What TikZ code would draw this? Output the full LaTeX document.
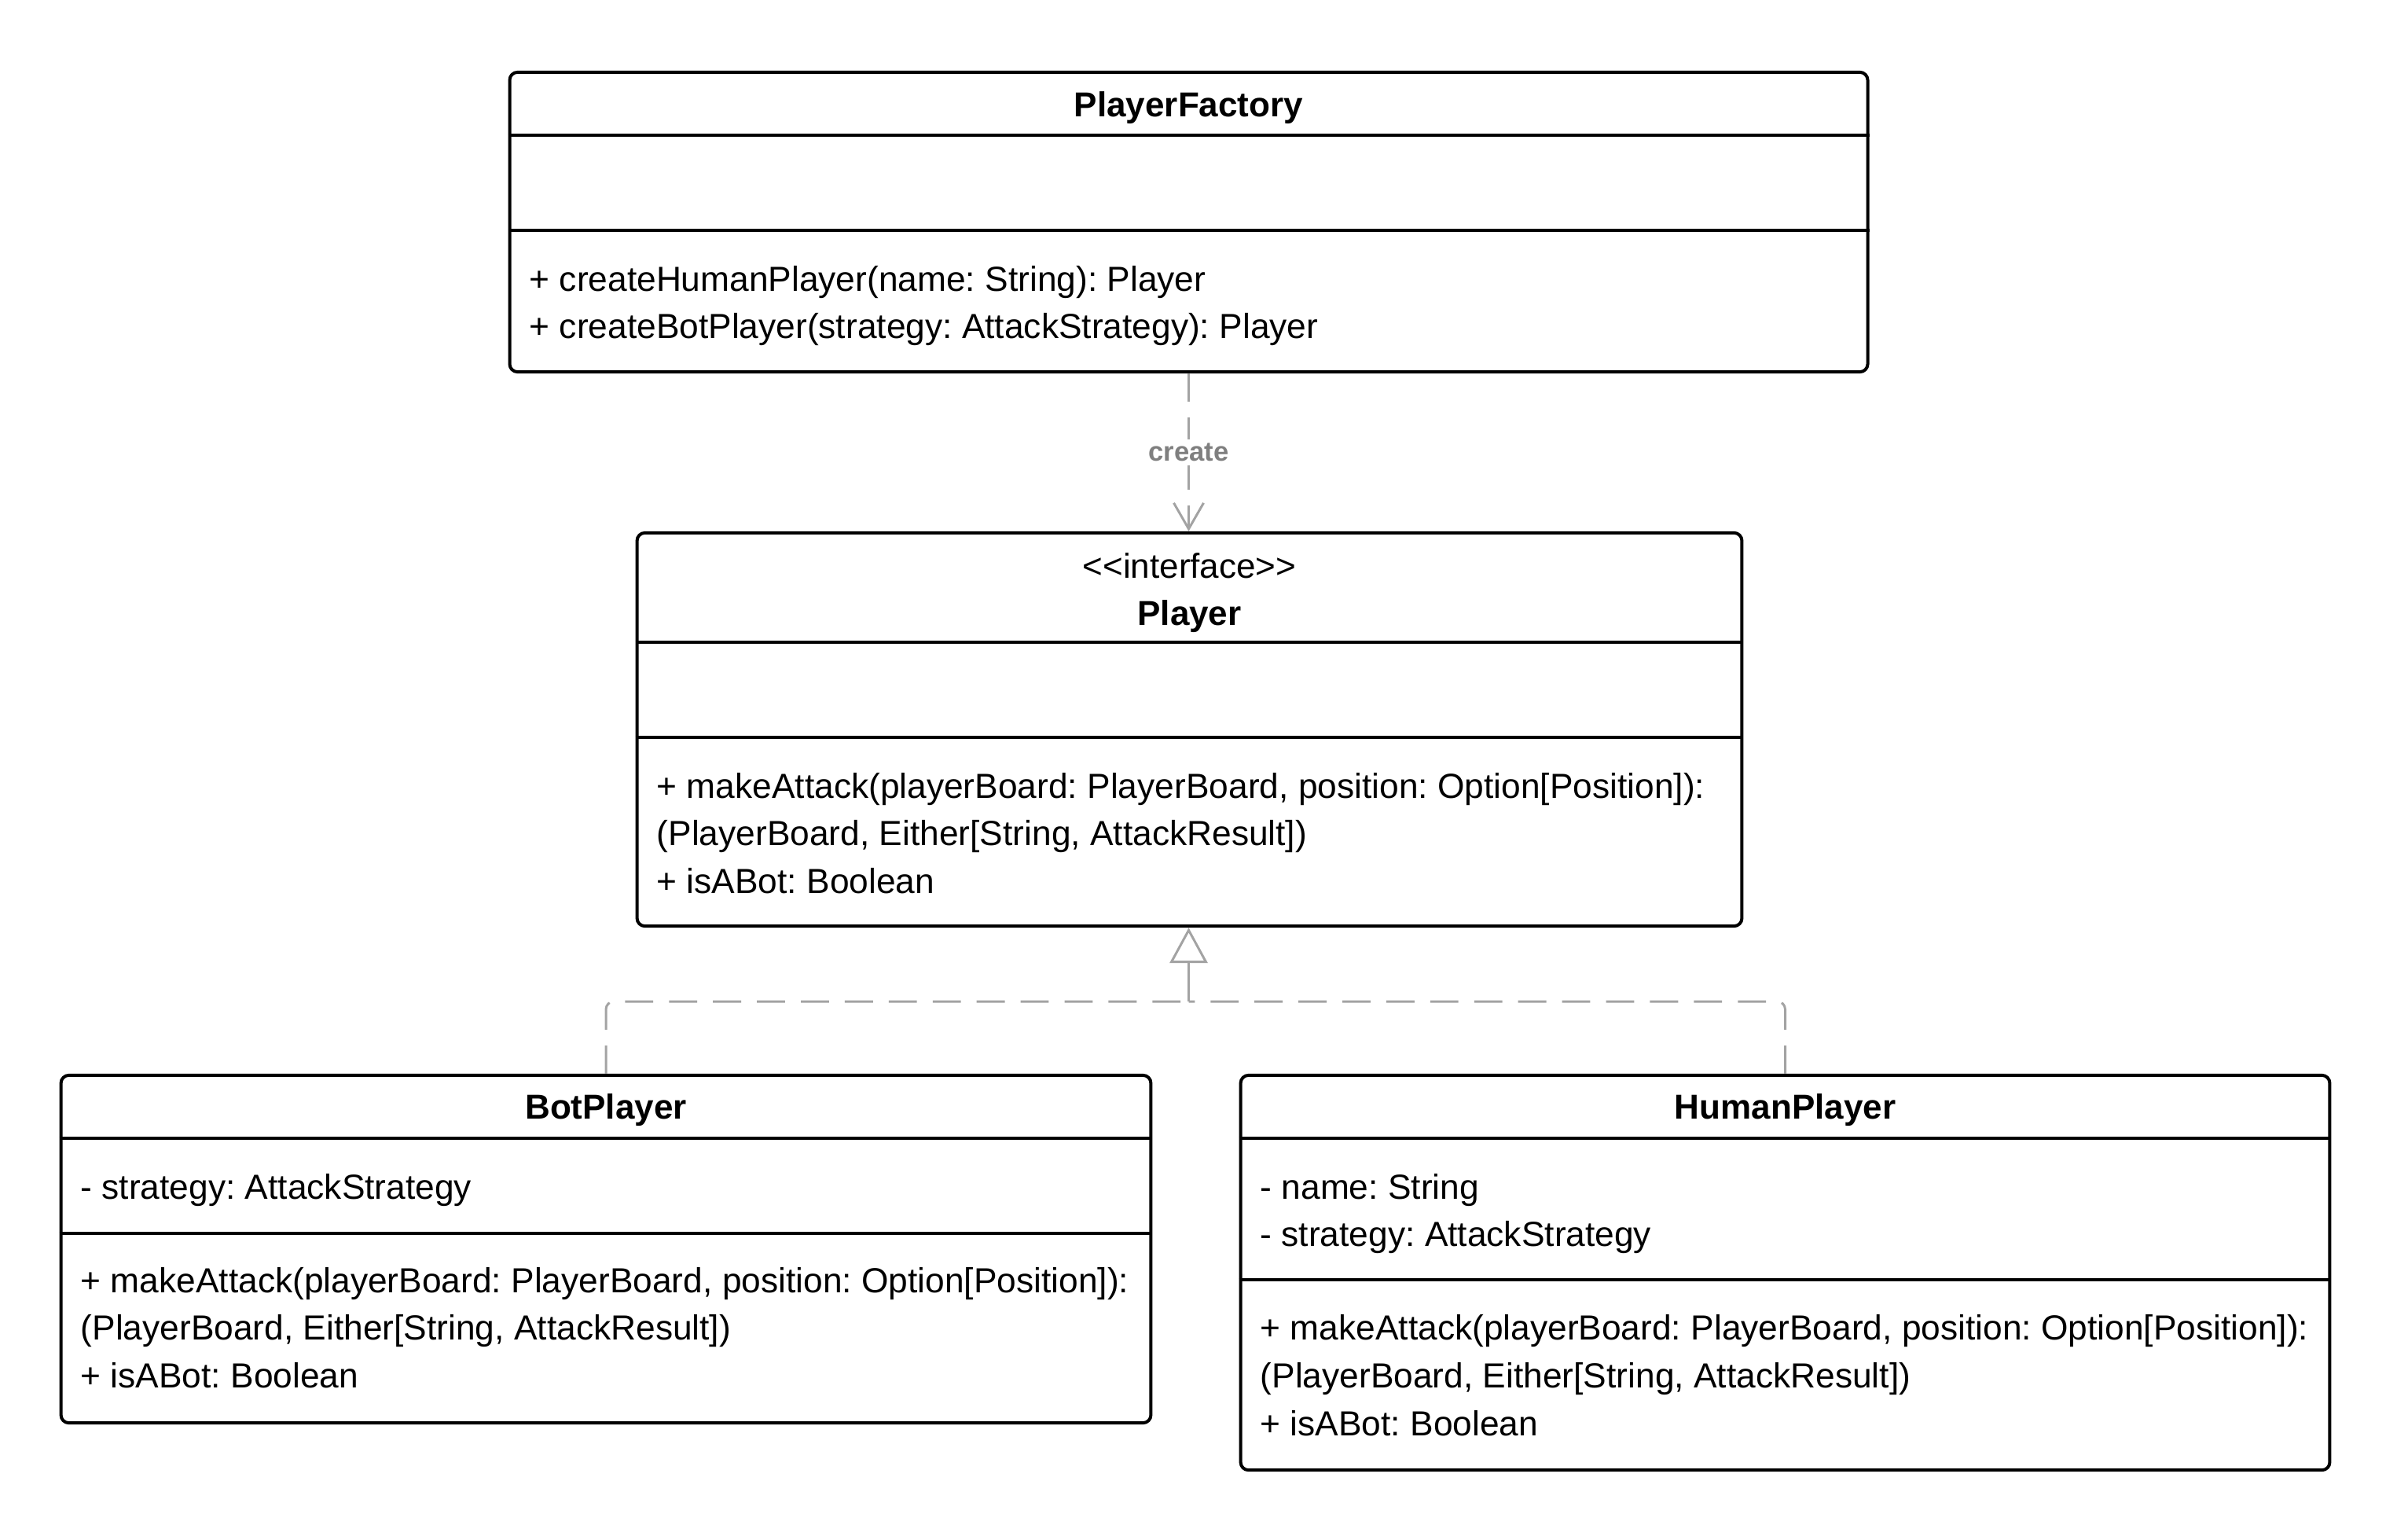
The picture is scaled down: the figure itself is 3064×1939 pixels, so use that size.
\documentclass[tikz,border=0pt]{standalone}
\usepackage{fontspec}
\setmainfont{Liberation Sans}
\usetikzlibrary{arrows.meta}
\frenchspacing
\definecolor{edgecol}{HTML}{A3A3A3}
\definecolor{lblcol}{HTML}{7F7F7F}
\tikzset{
  classbox/.style={draw=black, line width=1.14pt, rounded corners=2.85pt, inner sep=0pt, fill=white},
  divider/.style={draw=black, line width=1.14pt},
  member/.style={anchor=base west, inner sep=0pt, font=\fontsize{12.6pt}{15pt}\selectfont},
  classtitle/.style={anchor=base, inner sep=0pt, font=\fontsize{12.52pt}{15pt}\selectfont\bfseries},
  stereo/.style={anchor=base, inner sep=0pt, font=\fontsize{12.52pt}{15pt}\selectfont},
  depline/.style={draw=edgecol, line width=0.85pt, dash pattern=on 10.2pt off 5.7pt},
  solidedge/.style={draw=edgecol, line width=0.85pt},
  edgelabel/.style={fill=white, inner sep=1.5pt, text=lblcol, font=\fontsize{9.85pt}{11pt}\selectfont\bfseries}
}
\begin{document}
\frenchspacing
\begin{tikzpicture}[x=0.01cm, y=-0.01cm]
\useasboundingbox (0,0) rectangle (3064,1939);

% ---------- PlayerFactory ----------
\node[classbox, minimum width=17.27cm, minimum height=3.81cm] (pf) at (1512.5,282.5) {};
\draw[divider] (pf.west |- 0,172) -- (pf.east |- 0,172);
\draw[divider] (pf.west |- 0,293) -- (pf.east |- 0,293);
\node[classtitle] (pft) at (1512.5,148) {PlayerFactory};
\node[member] (pfm1) at (673,370) {+ createHumanPlayer(name: String): Player};
\node[member] (pfm2) at (673,430) {+ createBotPlayer(strategy: AttackStrategy): Player};

% ---------- Player ----------
\node[classbox, minimum width=14.05cm, minimum height=5.00cm] (player) at (1513.5,928) {};
\draw[divider] (player.west |- 0,817) -- (player.east |- 0,817);
\draw[divider] (player.west |- 0,938) -- (player.east |- 0,938);
\node[stereo] (pls) at (1513.5,735) {<\kern0pt<interface>\kern0pt>};
\node[classtitle] (plt) at (1513.5,795) {Player};
\node[member] (plm1) at (835,1015) {+ makeAttack(playerBoard: PlayerBoard, position: Option[Position]):};
\node[member] (plm2) at (835,1075) {(PlayerBoard, Either[String, AttackResult])};
\node[member] (plm3) at (835,1136) {+ isABot: Boolean};

% ---------- BotPlayer ----------
\node[classbox, minimum width=13.86cm, minimum height=4.42cm] (bot) at (771,1589) {};
\draw[divider] (bot.west |- 0,1448) -- (bot.east |- 0,1448);
\draw[divider] (bot.west |- 0,1569) -- (bot.east |- 0,1569);
\node[classtitle] (bott) at (771,1423) {BotPlayer};
\node[member] (bota1) at (102,1525) {- strategy: AttackStrategy};
\node[member] (botm1) at (102,1644) {+ makeAttack(playerBoard: PlayerBoard, position: Option[Position]):};
\node[member] (botm2) at (102,1704) {(PlayerBoard, Either[String, AttackResult])};
\node[member] (botm3) at (102,1765) {+ isABot: Boolean};

% ---------- HumanPlayer ----------
\node[classbox, minimum width=13.85cm, minimum height=5.02cm] (human) at (2271.5,1619) {};
\draw[divider] (human.west |- 0,1448) -- (human.east |- 0,1448);
\draw[divider] (human.west |- 0,1628) -- (human.east |- 0,1628);
\node[classtitle] (humt) at (2271.5,1423) {HumanPlayer};
\node[member] (huma1) at (1603,1525) {- name: String};
\node[member] (huma2) at (1603,1585) {- strategy: AttackStrategy};
\node[member] (humm1) at (1603,1704) {+ makeAttack(playerBoard: PlayerBoard, position: Option[Position]):};
\node[member] (humm2) at (1603,1765) {(PlayerBoard, Either[String, AttackResult])};
\node[member] (humm3) at (1603,1826) {+ isABot: Boolean};

% ---------- create dependency ----------
\draw[depline, -{Straight Barb[length=9.4pt, width=10.8pt, line width=0.85pt]}]
  (pf.south) -- node[edgelabel] (createlbl) {create} (pf.south |- player.north);

% ---------- realization ----------
\coordinate (join) at (1512.5,1274);
\draw[depline, rounded corners=2.85pt] (bot.north) |- (join);
\draw[depline, rounded corners=2.85pt] (human.north) |- (join);
\draw[solidedge, -{Triangle[fill=white, length=12.8pt, width=13.7pt, line width=0.85pt]}]
  (join) -- (join |- player.south);
\end{tikzpicture}
\end{document}
